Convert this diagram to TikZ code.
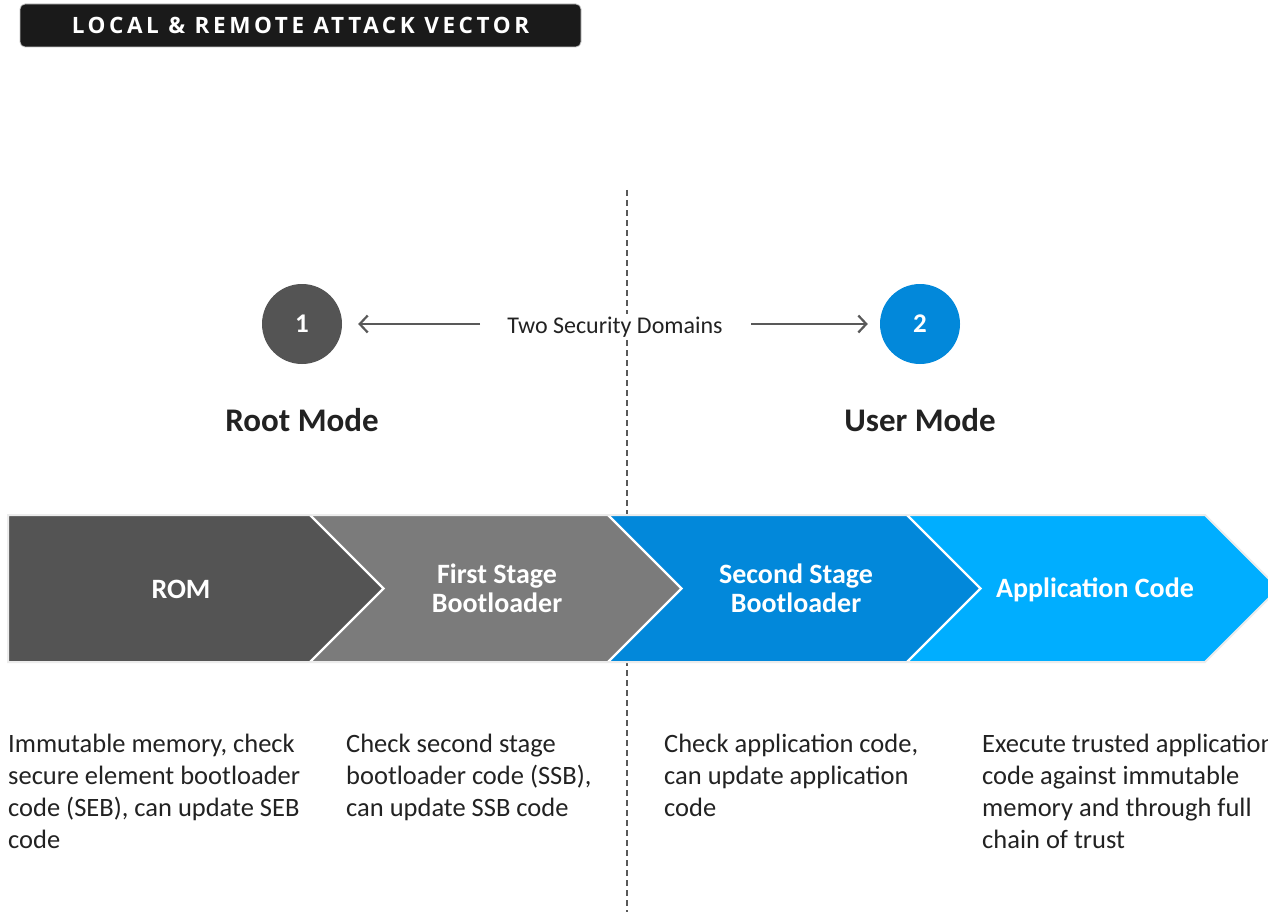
\documentclass[tikz,border=0pt]{standalone}
\usepackage{fontspec}
\setmainfont{Carlito}
\newfontfamily\headfont[LetterSpace=16]{Open Sans}
\usetikzlibrary{arrows.meta}
\definecolor{romgray}{HTML}{545454}
\definecolor{fsbgray}{HTML}{7B7B7B}
\definecolor{ssbblue}{HTML}{0288DA}
\definecolor{appblue}{HTML}{00AEFF}
\definecolor{inkdark}{HTML}{222222}
\definecolor{arrowgray}{HTML}{595959}
\definecolor{headbg}{HTML}{1A1A1A}
\tikzset{
  chevtext/.style={text=white, font=\bfseries\fontsize{28}{29}\selectfont, align=center, inner sep=0},
  modetext/.style={text=inkdark, font=\bfseries\fontsize{33}{38}\selectfont, inner sep=0},
  numcircle/.style={circle, minimum size=80pt, inner sep=0, text=white, font=\bfseries\fontsize{27}{30}\selectfont},
  desc/.style={anchor=north west, inner sep=0, align=left, text=inkdark, font=\fontsize{26.5}{32}\selectfont},
  domarrow/.style={draw=arrowgray, line width=2.2pt, -{Straight Barb[length=8pt,width=17pt,line width=2.2pt]}},
  divider/.style={draw=arrowgray, line width=1.2pt, dash pattern=on 6pt off 4pt},
}
\begin{document}
\begin{tikzpicture}[x=1pt,y=-1pt]
\clip (0,0) rectangle (1268,912);
\fill[white] (0,0) rectangle (1268,912);

% dashed divider between the two domains
\coordinate (dtop) at (627,190);
\coordinate (dbot) at (627,912);
\draw[divider] (dtop) -- (dbot);

% title banner
\node[draw=gray!45, line width=0.8pt, fill=headbg, rounded corners=5pt,
      minimum width=561pt, minimum height=43pt, inner sep=0,
      text=white, font=\headfont\bfseries\fontsize{22.5}{25}\selectfont]
  (title) at (300.5,25.5) {LOCAL \& REMOTE ATTACK VECTOR};

% security domains
\node[numcircle, fill=romgray] (c1) at (302,324) {1};
\node[numcircle, fill=ssbblue] (c2) at (920,324) {2};
\node[fill=white, inner sep=3pt, text=inkdark, font=\fontsize{24}{28}\selectfont]
  (dom) at (615,327) {Two Security Domains};
\coordinate (la) at (480,324);
\coordinate (ra) at (751,324);
\draw[domarrow, shorten >=16pt] (la) -- (c1);
\draw[domarrow, shorten >=12pt] (ra) -- (c2);

\node[modetext] (root) at (302,420) {Root Mode};
\node[modetext] (user) at (920,420) {User Mode};

% boot chain chevrons
\fill[romgray] (8,515) -- (310,515) -- (383.5,588.5) -- (310,662) -- (8,662) -- cycle;
\fill[fsbgray] (310,515) -- (608,515) -- (681.5,588.5) -- (608,662) -- (310,662) -- (383.5,588.5) -- cycle;
\fill[ssbblue] (608,515) -- (907,515) -- (980.5,588.5) -- (907,662) -- (608,662) -- (681.5,588.5) -- cycle;
\fill[appblue] (907,515) -- (1205,515) -- (1278.5,588.5) -- (1205,662) -- (907,662) -- (980.5,588.5) -- cycle;
\draw[white, line width=2.2pt, line join=miter]
  (310,515) -- (383.5,588.5) -- (310,662)
  (608,515) -- (681.5,588.5) -- (608,662)
  (907,515) -- (980.5,588.5) -- (907,662);
\draw[gray!15, line width=2pt, line join=miter]
  (8,515) -- (1205,515) -- (1278.5,588.5) -- (1205,662) -- (8,662) -- cycle;

\node[chevtext] (rom) at (181,589) {ROM};
\node[chevtext] (fsb) at (497,588) {First Stage\\Bootloader};
\node[chevtext] (ssb) at (796,588) {Second Stage\\Bootloader};
\node[chevtext] (app) at (1095,590) {Application Code};

% stage descriptions
\node[desc] (d1) at (8,734) {Immutable memory, check\\secure element bootloader\\code (SEB), can update SEB\\code};
\node[desc] (d2) at (346,734) {Check second stage\\bootloader code (SSB),\\can update SSB code};
\node[desc] (d3) at (664,734) {Check application code,\\can update application\\code};
\node[desc] (d4) at (982,734) {Execute trusted application\\code against immutable\\memory and through full\\chain of trust};
\end{tikzpicture}
\end{document}
